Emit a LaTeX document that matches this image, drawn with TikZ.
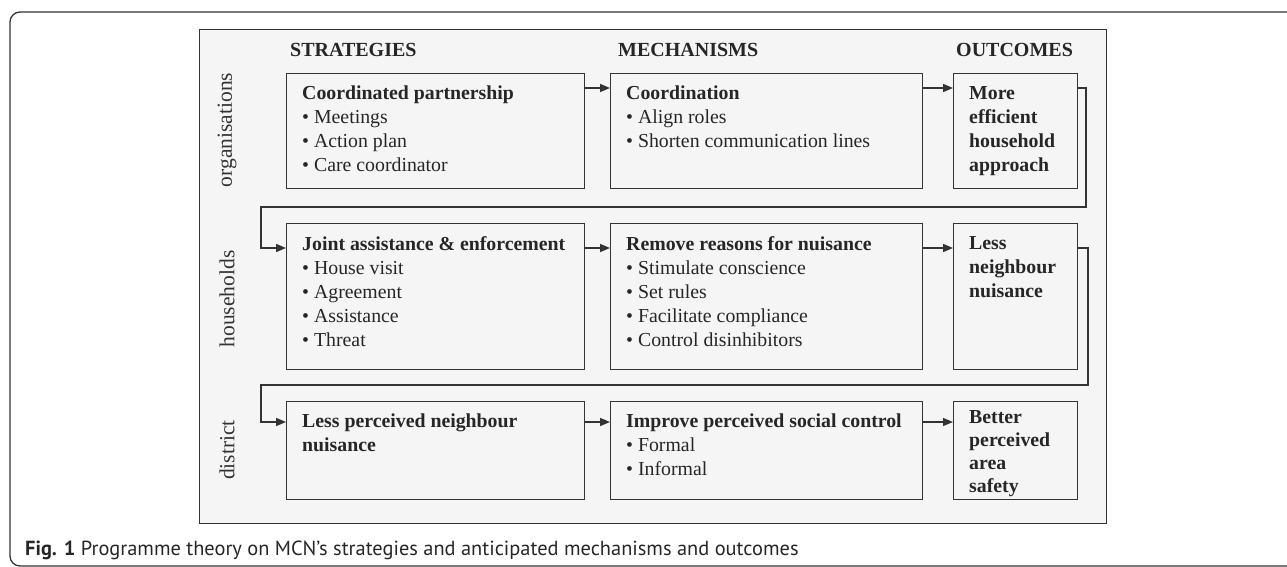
\documentclass[tikz,border=0pt]{standalone}
\usepackage{fontspec}
\setmainfont{Liberation Serif}
\newfontfamily\capfont{PT Sans}
\usetikzlibrary{arrows.meta,calc}
\definecolor{panelgray}{HTML}{F5F5F5}
\definecolor{linegray}{HTML}{333333}
\begin{document}
\begin{tikzpicture}[x=1pt,y=-1pt,
  box/.style={draw=linegray, line width=1.4pt, fill=panelgray, rectangle, inner sep=0pt, anchor=north west},
  txt/.style={anchor=north west, inner sep=0pt, align=left, font=\fontsize{19.8}{24}\selectfont, text=black!85},
  hdr/.style={anchor=west, inner sep=0pt, font=\fontsize{20}{24}\selectfont\bfseries, text=black!85},
  rowlab/.style={rotate=90, inner sep=0pt, font=\fontsize{21.5}{24}\selectfont, text=black!80},
  arr/.style={draw=linegray, line width=1.4pt, -{Triangle[length=10pt,width=8pt]}}]
\useasboundingbox (0,0) rectangle (1287,567);
\begin{scope}
\clip (0,0) rectangle (1287,567);
\draw[linegray, line width=1.3pt, rounded corners=10pt] (10,12) rectangle (1320,566);
\end{scope}
% panel
\node[box, line width=1.2pt, minimum width=907pt, minimum height=494pt] (panel) at (199,29) {};
% headers
\node[hdr] (h1) at (290,50) {STRATEGIES};
\node[hdr] (h2) at (618,50) {MECHANISMS};
\node[hdr] (h3) at (956,50) {OUTCOMES};
% row labels
\node[rowlab] (r1) at (227,130) {organisations};
\node[rowlab] (r2) at (227,299) {households};
\node[rowlab] (r3) at (227,450) {district};
% row 1
\node[box, minimum width=298pt, minimum height=115pt] (b1) at (286,73) {};
\node[box, minimum width=312pt, minimum height=115pt] (b2) at (610,73) {};
\node[box, minimum width=124pt, minimum height=115pt] (b3) at (953,73) {};
% row 2
\node[box, minimum width=298pt, minimum height=146pt] (b4) at (286,223) {};
\node[box, minimum width=312pt, minimum height=146pt] (b5) at (610,223) {};
\node[box, minimum width=124pt, minimum height=146pt] (b6) at (953,223) {};
% row 3
\node[box, minimum width=298pt, minimum height=98pt] (b7) at (286,401) {};
\node[box, minimum width=312pt, minimum height=98pt] (b8) at (610,401) {};
\node[box, minimum width=124pt, minimum height=98pt] (b9) at (953,401) {};
% texts
\node[txt] (t1) at ($(b1.north west)+(16,13)$) {\textbf{Coordinated partnership}\\\textbullet\ Meetings\\\textbullet\ Action plan\\\textbullet\ Care coordinator};
\node[txt] (t2) at ($(b2.north west)+(16,13)$) {\textbf{Coordination}\\\textbullet\ Align roles\\\textbullet\ Shorten communication lines};
\node[txt] (t3) at ($(b3.north west)+(16,13)$) {\textbf{More}\\\textbf{efficient}\\\textbf{household}\\\textbf{approach}};
\node[txt] (t4) at ($(b4.north west)+(16,13)$) {\textbf{Joint assistance \& enforcement}\\\textbullet\ House visit\\\textbullet\ Agreement\\\textbullet\ Assistance\\\textbullet\ Threat};
\node[txt] (t5) at ($(b5.north west)+(16,13)$) {\textbf{Remove reasons for nuisance}\\\textbullet\ Stimulate conscience\\\textbullet\ Set rules\\\textbullet\ Facilitate compliance\\\textbullet\ Control disinhibitors};
\node[txt] (t6) at ($(b6.north west)+(16,13)$) {\textbf{Less}\\\textbf{neighbour}\\\textbf{nuisance}};
\node[txt] (t7) at ($(b7.north west)+(16,13)$) {\textbf{Less perceived neighbour}\\\textbf{nuisance}};
\node[txt] (t8) at ($(b8.north west)+(16,13)$) {\textbf{Improve perceived social control}\\\textbullet\ Formal\\\textbullet\ Informal};
\node[txt, font=\fontsize{19.8}{23}\selectfont] (t9) at ($(b9.north west)+(16,9)$) {\textbf{Better}\\\textbf{perceived}\\\textbf{area}\\\textbf{safety}};
% connectors
\draw[arr] ($(b1.north east)+(0,15)$) -- ($(b2.north west)+(0,15)$);
\draw[arr] ($(b2.north east)+(0,15)$) -- ($(b3.north west)+(0,15)$);
\draw[arr] ($(b4.north east)+(0,25)$) -- ($(b5.north west)+(0,25)$);
\draw[arr] ($(b5.north east)+(0,25)$) -- ($(b6.north west)+(0,25)$);
\draw[arr] ($(b7.north east)+(0,21)$) -- ($(b8.north west)+(0,21)$);
\draw[arr] ($(b8.north east)+(0,21)$) -- ($(b9.north west)+(0,21)$);
\coordinate (c1) at (1086,207);
\coordinate (c2) at (261,248);
\draw[arr] ($(b3.north east)+(0,15)$) -| (c1) -| (c2) -- ($(b4.north west)+(0,25)$);
\coordinate (c3) at (1088,385);
\coordinate (c4) at (261,422);
\draw[arr] ($(b6.north east)+(0,25)$) -| (c3) -| (c4) -- ($(b7.north west)+(0,21)$);
% caption
\node[anchor=west, inner sep=0pt, font=\capfont\fontsize{20.4}{24}\selectfont, text=black!85] (cap) at (25,550) {\textbf{Fig. 1} Programme theory on MCN’s strategies and anticipated mechanisms and outcomes};
\end{tikzpicture}
\end{document}
